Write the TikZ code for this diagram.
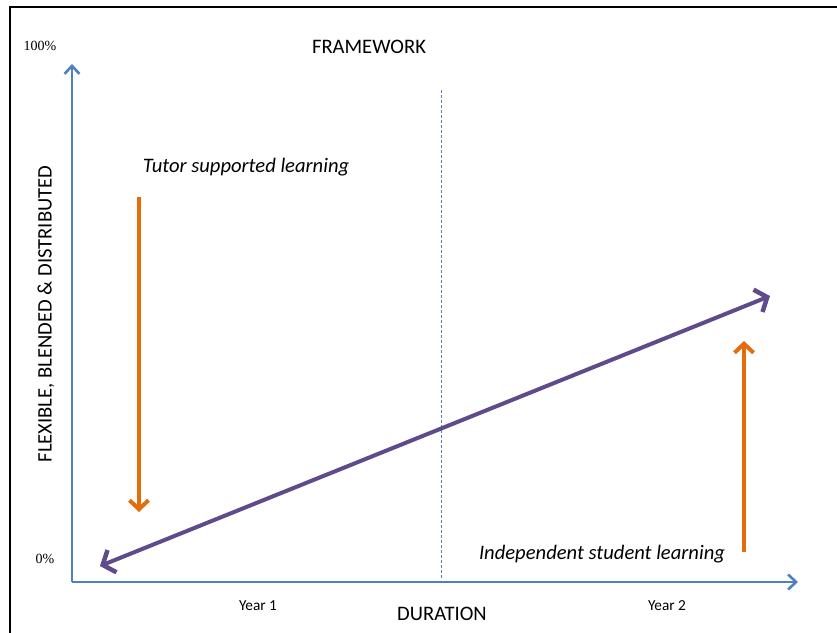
\documentclass[tikz,border=0pt]{standalone}
\usepackage{fontspec}
\setmainfont{Carlito}
\newfontfamily\serifnum{Liberation Serif}
\usetikzlibrary{arrows.meta}
\definecolor{axisblue}{HTML}{4F81BD}
\definecolor{purp}{HTML}{5F4B8B}
\definecolor{orng}{HTML}{E46C0A}
\tikzset{
  axis/.style={draw=axisblue, line width=2.6pt, -{Straight Barb[length=8pt,width=15pt,line width=2.6pt]}},
  purparrow/.style={draw=purp, line width=4pt, line cap=round, {Straight Barb[length=10pt,width=24pt,line width=4.5pt]}-{Straight Barb[length=10pt,width=24pt,line width=4.5pt]}},
  orarrow/.style={draw=orng, line width=3.8pt, -{Straight Barb[length=9pt,width=19pt,line width=4pt]}},
  lbl/.style={font=\fontsize{20.6}{24}\selectfont, inner sep=0pt},
  small/.style={font=\fontsize{15.3}{18}\selectfont, inner sep=0pt},
  pct/.style={font=\serifnum\fontsize{14}{16}\selectfont, inner sep=0pt}
}
\begin{document}
\begin{tikzpicture}[x=1pt,y=-1pt]
\useasboundingbox (0,0) rectangle (837,632);
\fill[white] (0,0) rectangle (837,632);
\draw[black, line width=1.5pt] (10,7) rectangle (845,640);
% axes
\coordinate (origin) at (72,582);
\coordinate (ytip) at (72,64);
\coordinate (xtip) at (798,582);
\draw[axis] (origin) -- (ytip);
\draw[axis] (origin) -- (xtip);
% dashed divider
\coordinate (dtop) at (441,90);
\coordinate (dbot) at (441,578);
\draw[axisblue, line width=1pt, dash pattern=on 3pt off 2pt] (dtop) -- (dbot);
% purple diagonal
\coordinate (pA) at (100,566);
\coordinate (pB) at (770,296);
\draw[purparrow] (pA) -- (pB);
% orange arrows
\coordinate (o1s) at (139,197);
\coordinate (o1e) at (139,512);
\draw[orarrow] (o1s) -- (o1e);
\coordinate (o2s) at (744,552);
\coordinate (o2e) at (744,341);
\draw[orarrow] (o2s) -- (o2e);
% texts
\node[lbl] (fw) at (369,47) {FRAMEWORK};
\node[lbl] (tutor) at (246,167) {\itshape Tutor supported learning};
\node[lbl] (indep) at (602,554) {\itshape Independent student learning};
\node[lbl] (dur) at (442,614) {DURATION};
\node[small] (y1) at (258,606) {Year 1};
\node[small] (y2) at (667,606) {Year 2};
\node[pct] (p100) at (40,46) {100\%};
\node[pct] (p0) at (45,559) {0\%};
\node[lbl, rotate=90] (ylab) at (46,314) {FLEXIBLE, BLENDED \& DISTRIBUTED};
\end{tikzpicture}
\end{document}
